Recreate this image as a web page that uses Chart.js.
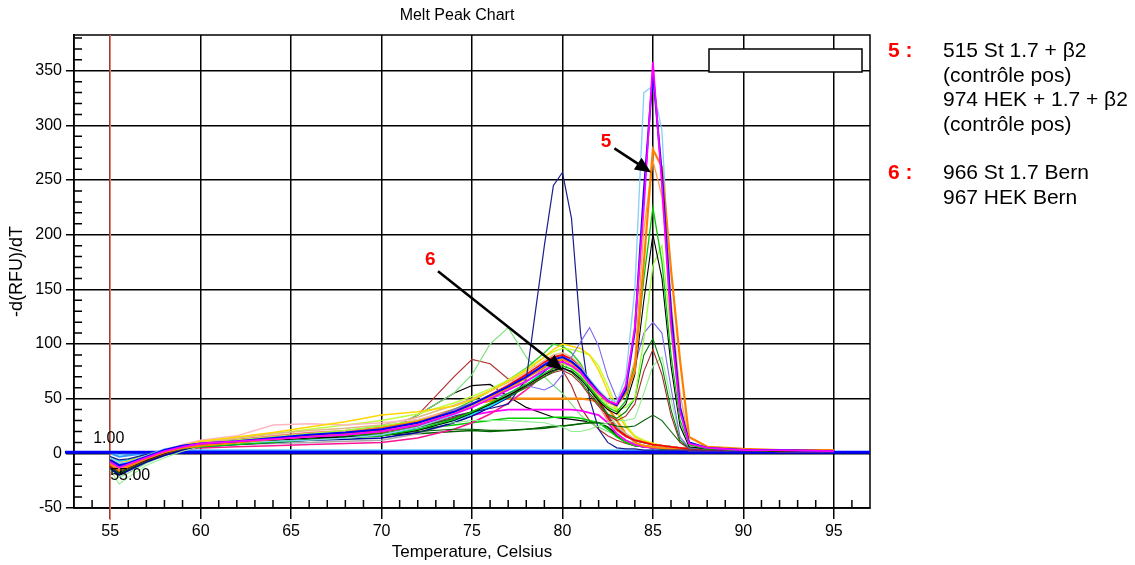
<!DOCTYPE html>
<html><head><meta charset="utf-8">
<script src="https://cdn.jsdelivr.net/npm/chart.js@4.4.1/dist/chart.umd.min.js"></script>
<style>
body{margin:0;background:#fff;width:1135px;height:565px;overflow:hidden;position:relative;font-family:'Liberation Sans',Arial,sans-serif;}
#wrap{position:absolute;left:0;top:0;width:914px;height:565px;}
#title{position:absolute;left:0;top:5px;width:914px;text-align:center;font-size:16px;line-height:20px;color:#000;}
.note{position:absolute;font-size:21px;line-height:24.5px;color:#000;white-space:nowrap;}
.tag{position:absolute;font-size:21px;line-height:24.5px;color:#f00;font-weight:bold;white-space:nowrap;}
</style></head><body>
<div id="wrap"><canvas id="c" width="914" height="565"></canvas></div>
<div id="title">Melt Peak Chart</div>
<div class="tag" style="left:888px;top:38px">5 :</div>
<div class="note" style="left:943px;top:38px">515 St 1.7 + β2<br>(contrôle pos)<br>974 HEK + 1.7 + β2<br>(contrôle pos)</div>
<div class="tag" style="left:888px;top:160px">6 :</div>
<div class="note" style="left:943px;top:160px">966 St 1.7 Bern<br>967 HEK Bern</div>
<script>
// Temperatures (Celsius)
const temps = [55,55.5,56,57,58,59,60,62,64,66,68,70, 72,74,75,76,77,78,79,79.5, 80,80.5,81,81.5,82,82.5,83,83.5, 84,84.5,85,85.5,86,86.5,87, 88,90,92,95];
const xTickValues = [55,60,65,70,75,80,85,90,95];
const yTickValues = [-50,0,50,100,150,200,250,300,350];

// Positive controls (peak at ~85)
const posMagenta = [-8,-13,-10,-4,2,6,9,11,13,15,17,20, 26,36,42,50,58,66,76,80, 84,80,74,64,55,48,45,62, 115,225,358,245,118,38,9, 5,3,3,2];
const posBlue    = [-6,-11,-9,-3,3,7,9,11,14,17,19,22, 28,38,45,53,61,70,81,86, 88,84,77,66,56,48,44,58, 112,240,348,255,130,42,10, 5,3,3,2];
const posSky     = [-4,-9,-8,-2,4,7,8,10,11,12,14,17, 24,35,43,52,61,70,82,86, 88,85,78,68,58,50,47,70, 150,330,336,295,135,45,10, 5,3,3,2];
const posOrange  = [-10,-16,-12,-5,1,5,7,10,13,16,19,23, 29,38,45,52,60,69,79,84, 86,83,76,66,56,48,44,55, 75,175,278,262,168,85,15, 6,4,3,3];
const posOrange2 = [-9,-14,-11,-4,2,6,8,10,13,15,17,20, 27,37,44,52,60,69,79,84, 86,82,75,64,54,46,43,55, 85,205,268,235,140,55,10, 5,3,3,2];
const posGreen   = [-7,-12,-10,-4,2,5,6,8,10,12,14,16, 22,31,38,46,55,63,73,78, 80,77,70,60,50,42,38,48, 82,160,225,175,90,30,8, 4,3,3,2];
const posBlack   = [-11,-17,-13,-6,0,5,8,10,12,14,15,16, 21,30,37,45,53,62,72,76, 78,75,68,58,48,40,36,45, 72,140,200,160,80,25,6, 4,3,2,2];
const posLime    = [-8,-13,-11,-5,1,6,9,12,15,18,21,25, 30,38,44,51,59,66,76,80, 82,79,72,62,52,44,40,42, 50,105,172,190,110,40,8, 4,3,3,2];
const posPurple  = [-6,-10,-8,-3,2,6,9,11,13,15,17,20, 28,40,46,50,55,62,58,62, 72,88,102,115,98,70,50,55, 80,110,120,110,60,15,5, 4,3,3,2];
const posDkGreen = [-9,-14,-12,-5,1,5,8,10,12,14,16,18, 24,32,38,45,52,60,70,75, 78,74,66,55,45,36,32,38, 50,90,105,80,40,12,5, 4,3,2,2];
const posBrown   = [-7,-12,-10,-4,2,6,9,11,13,15,17,19, 25,33,38,45,53,61,70,74, 76,72,64,53,43,35,30,34, 45,75,95,72,35,10,4, 3,3,2,2];
const posPale    = [-15,-28,-22,-11,-4,2,6,9,11,14,17,20, 25,28,30,30,30,29,28,26, 24,20,20,22,25,28,30,30, 32,55,80,88,50,15,5, 4,3,2,2];
const posLowGrn  = [-10,-15,-12,-6,0,4,7,9,11,13,15,17, 20,22,22,21,21,22,24,25, 25,26,27,28,28,27,25,24, 25,30,35,30,20,10,5, 4,3,2,2];
// Broad peak near 80 (group 6 and others)
const bRed       = [-12,-16,-12,-6,0,5,8,10,13,16,18,21, 27,36,44,53,62,72,83,88, 90,86,78,64,48,33,22,16, 12,10,8,7,6,5,4, 3,3,2,2];
const bYellow    = [-5,-9,-7,-2,3,7,11,15,19,24,29,35, 38,43,49,57,66,76,88,95, 100,98,96,90,76,57,38,24, 15,11,9,7,6,5,4, 3,3,2,2];
const bCyan      = [-3,-7,-6,-1,3,6,7,9,11,13,15,17, 22,30,36,43,52,62,76,83, 88,84,76,62,47,33,23,16, 12,10,8,7,6,5,4, 3,3,2,2];
const bPink      = [-4,-8,-7,-2,3,8,12,16,26,27,26,28, 31,39,46,54,63,73,84,88, 88,84,76,62,46,32,22,16, 13,10,8,7,6,5,4, 3,3,2,2];
const bDarkBlue  = [-14,-20,-16,-8,-2,3,6,8,10,12,13,14, 19,28,34,42,51,62,75,82, 86,84,78,65,49,34,23,16, 12,10,8,7,6,5,4, 3,3,2,2];
const bTan       = [-9,-14,-11,-5,1,6,10,14,18,21,23,26, 33,44,50,57,65,74,85,90, 92,88,80,67,50,35,25,18, 13,10,8,7,6,5,4, 3,3,2,2];
const bGray      = [-6,-11,-9,-3,2,5,7,8,9,10,11,12, 18,28,35,44,54,65,78,85, 89,87,80,67,51,36,25,18, 13,10,8,7,6,5,4, 3,3,2,2];
const bGreenYel  = [-7,-12,-10,-4,2,7,11,14,18,22,26,30, 36,46,52,59,67,77,88,93, 96,95,93,90,80,62,42,26, 16,12,9,7,6,5,4, 3,3,2,2];
const bSalmon    = [-10,-15,-12,-5,1,6,10,13,16,19,21,24, 30,39,45,52,60,69,80,85, 87,83,74,60,44,30,21,15, 12,10,8,7,6,5,4, 3,3,2,2];
const bDeepPink  = [-11,-16,-13,-6,0,3,5,6,7,8,9,10, 14,22,28,36,46,58,72,78, 82,80,75,64,49,34,23,16, 12,10,8,7,6,5,4, 3,3,2,2];
const bLimeGreen = [-6,-10,-8,-3,2,6,9,11,14,17,19,22, 29,40,48,57,67,78,92,100, 98,92,82,66,48,32,22,16, 12,10,8,7,6,5,4, 3,3,2,2];
// Single tall peak at 80
const navyPeak   = [-3,-6,-5,-1,3,7,9,11,13,15,17,20, 26,34,38,41,45,68,190,245, 257,215,110,50,22,10,5,4, 4,3,3,3,3,3,3, 3,2,2,2];
// Plateau curves
const platOrange = [-8,-12,-10,-4,1,5,8,10,12,14,16,19, 30,40,45,48,50,50,50,50, 50,50,50,49,47,42,30,18, 10,7,6,5,4,4,3, 3,3,2,2];
const platMagenta= [-10,-15,-12,-5,0,4,7,9,11,13,15,17, 24,32,35,38,40,40,40,40, 40,40,39,37,35,28,18,12, 8,6,5,5,4,4,3, 3,3,2,2];
const platGreen  = [-8,-13,-10,-4,1,5,8,10,12,14,16,18, 22,26,28,30,32,32,32,33, 33,33,32,30,28,22,15,10, 7,6,5,4,4,4,3, 3,3,2,2];
const platDkGreen= [-12,-18,-14,-7,-1,4,7,9,11,13,15,17, 18,20,21,20,21,22,23,24, 25,26,27,28,28,24,16,10, 7,6,5,4,4,4,3, 3,3,2,2];
// Early bumps
const bumpLtGreen= [-14,-22,-18,-9,-2,3,6,9,11,14,17,20, 35,55,72,100,115,88,70,62, 55,45,35,28,24,20,17,12, 9,7,6,5,4,4,3, 3,3,2,2];
const bumpBrown  = [-9,-14,-11,-5,1,5,8,10,12,14,16,19, 35,70,86,82,68,62,72,78, 76,62,42,30,22,16,12,9, 7,6,5,5,4,4,3, 3,3,2,2];
const bumpBlack  = [-13,-19,-15,-7,-1,4,7,9,11,13,15,18, 35,55,62,63,52,42,36,33, 32,31,30,29,28,24,18,12, 8,6,5,5,4,4,3, 3,3,2,2];
// Negative controls (flat)
const negA       = [0,-3,-2,0,1,2,2,2,2,2,2,2, 2,2,2,2,2,2,2,2, 2,2,2,2,2,2,2,2, 2,2,2,2,2,2,2, 2,2,2,2];
const negB       = [1,-1,0,1,2,3,3,3,3,3,3,3, 3,3,3,3,3,3,3,3, 3,3,3,3,3,3,3,3, 3,3,3,3,3,3,3, 3,3,3,3];
// Threshold line and marker
const thresholdX = [52.5, 97];
const thresholdY = [1, 1];
const markerTemp = 55;

const series = [
  [posMagenta,'#ff00ff',1.8],[posBlue,'#0000ff',2],[posOrange,'#ff8000',2.2],[posOrange2,'#ffa040',1.3],
  [posSky,'#87cefa',1.3],[posGreen,'#00c800',1.3],[posBlack,'#000000',1.1],[posLime,'#99ff33',1.3],
  [posPurple,'#7b68ee',1.1],[posDkGreen,'#008000',1.1],[posBrown,'#a52a2a',1.1],[posPale,'#90ee90',1.1],[posLowGrn,'#006400',1.1],
  [navyPeak,'#1c1c8c',1.2],
  [bRed,'#ff0000',1.8],[bYellow,'#ffd700',1.5],[bCyan,'#00e5ee',1.5],[bPink,'#ffb6c1',1.5],[bDarkBlue,'#0000a0',1.5],
  [bTan,'#deb887',1.5],[bGray,'#a9a9a9',1.5],[bGreenYel,'#c0ff40',1.5],[bSalmon,'#fa8072',1.5],[bDeepPink,'#ff1493',1.5],[bLimeGreen,'#32cd32',1.5],
  [platOrange,'#ff8c00',2.2],[platMagenta,'#ff00ff',1.8],[platGreen,'#00cc00',1.5],[platDkGreen,'#006400',1.5],
  [bumpLtGreen,'#7ee07e',1.2],[bumpBrown,'#b03030',1.2],[bumpBlack,'#000000',1.2]
];

const datasets = series.map(([vals,color,w]) => ({
  data: temps.map((t,i)=>({x:t,y:vals[i]})),
  borderColor: color, borderWidth: w, pointRadius: 0, tension: 0, fill: false
}));
datasets.push({data: thresholdX.map((t,i)=>({x:t,y:thresholdY[i]})), borderColor:'#0000ff', borderWidth:3, pointRadius:0, clip:false});
datasets.push({data: temps.map((t,i)=>({x:t,y:negA[i]})), borderColor:'#3399ff', borderWidth:2, pointRadius:0});
datasets.push({data: temps.map((t,i)=>({x:t,y:negB[i]})), borderColor:'#66ccff', borderWidth:1.5, pointRadius:0});

const FONT = "'Liberation Sans', Arial, sans-serif";

function arrow(ctx,x1,y1,x2,y2){
  const a = Math.atan2(y2-y1,x2-x1), L=16, W=7;
  ctx.beginPath(); ctx.moveTo(x1,y1); ctx.lineTo(x2-L*0.6*Math.cos(a), y2-L*0.6*Math.sin(a)); ctx.stroke();
  ctx.beginPath(); ctx.moveTo(x2,y2);
  ctx.lineTo(x2-L*Math.cos(a)+W*Math.sin(a), y2-L*Math.sin(a)-W*Math.cos(a));
  ctx.lineTo(x2-L*Math.cos(a)-W*Math.sin(a), y2-L*Math.sin(a)+W*Math.cos(a));
  ctx.closePath(); ctx.fill();
}

const decor = {
  id:'decor',
  beforeDatasetsDraw(chart){
    const {ctx, chartArea:a, scales:{x,y}} = chart;
    ctx.save();
    ctx.strokeStyle='#000'; ctx.lineWidth=1.5;
    ctx.beginPath();
    for (let v=-40; v<=380; v+=10){ if (v%50===0) continue; const py=y.getPixelForValue(v); ctx.moveTo(a.left,py); ctx.lineTo(a.left+8,py); }
    for (let t=54; t<=96; t++){ if (t%5===0) continue; const px=x.getPixelForValue(t); ctx.moveTo(px,a.bottom); ctx.lineTo(px,a.bottom-8); }
    ctx.stroke();
    ctx.strokeRect(a.left,a.top,a.right-a.left,a.bottom-a.top);
    const rx = x.getPixelForValue(markerTemp);
    ctx.strokeStyle='#f47c6a'; ctx.lineWidth=1.5;
    ctx.beginPath(); ctx.moveTo(rx,a.top); ctx.lineTo(rx,a.bottom+12); ctx.stroke();
    ctx.restore();
  },
  afterDatasetsDraw(chart){
    const {ctx, chartArea:a, scales:{x,y}} = chart;
    ctx.save();
    ctx.fillStyle='#fff'; ctx.strokeStyle='#000'; ctx.lineWidth=1.5;
    ctx.fillRect(a.right-161,a.top+14,153,23); ctx.strokeRect(a.right-161,a.top+14,153,23);
    ctx.fillStyle='#000'; ctx.font='16px '+FONT; ctx.textBaseline='middle'; ctx.textAlign='left';
    const mx = x.getPixelForValue(markerTemp), ty = y.getPixelForValue(thresholdY[0]);
    ctx.fillText('1.00', mx-17, ty-14);
    ctx.fillText('55.00', mx, ty+23);
    ctx.strokeStyle='#000'; ctx.fillStyle='#000'; ctx.lineWidth=2.5;
    arrow(ctx, x.getPixelForValue(82.87), y.getPixelForValue(279), x.getPixelForValue(84.9), y.getPixelForValue(257));
    arrow(ctx, x.getPixelForValue(73.12), y.getPixelForValue(166.6), x.getPixelForValue(80.02), y.getPixelForValue(76));
    ctx.fillStyle='#f00'; ctx.font='bold 19px '+FONT; ctx.textAlign='center';
    ctx.fillText('5', x.getPixelForValue(82.41), y.getPixelForValue(285));
    ctx.fillText('6', x.getPixelForValue(72.7), y.getPixelForValue(176.7));
    ctx.restore();
  }
};

new Chart(document.getElementById('c'), {
  type:'line',
  data:{datasets},
  plugins:[decor],
  options:{
    responsive:false, animation:false, devicePixelRatio:1,
    layout:{padding:{left:0,right:44,top:35,bottom:0}},
    plugins:{legend:{display:false}, tooltip:{enabled:false}},
    scales:{
      x:{type:'linear', min:53, max:97,
        afterBuildTicks:(s)=>{ s.ticks = xTickValues.map(v=>({value:v})); },
        afterFit:(s)=>{ s.height = 57; },
        grid:{color:'#000', lineWidth:1.5, tickLength:11, tickColor:'#000'},
        border:{color:'#000', width:1.5},
        ticks:{color:'#000', font:{family:FONT,size:16}, padding:3, maxRotation:0, autoSkip:false},
        title:{display:true, text:'Temperature, Celsius', color:'#000', font:{family:FONT,size:17}, padding:{top:0,bottom:2}}
      },
      y:{type:'linear', min:-50, max:382.7,
        afterBuildTicks:(s)=>{ s.ticks = yTickValues.map(v=>({value:v})); },
        afterFit:(s)=>{ s.width = 74; },
        grid:{color:'#000', lineWidth:1.5, tickLength:8, tickColor:'#000'},
        border:{color:'#000', width:1.5},
        ticks:{color:'#000', font:{family:FONT,size:16}, padding:4, autoSkip:false},
        title:{display:true, text:'-d(RFU)/dT', color:'#000', font:{family:FONT,size:18}, padding:{top:6,bottom:0}}
      }
    }
  }
});
</script>
</body></html>
